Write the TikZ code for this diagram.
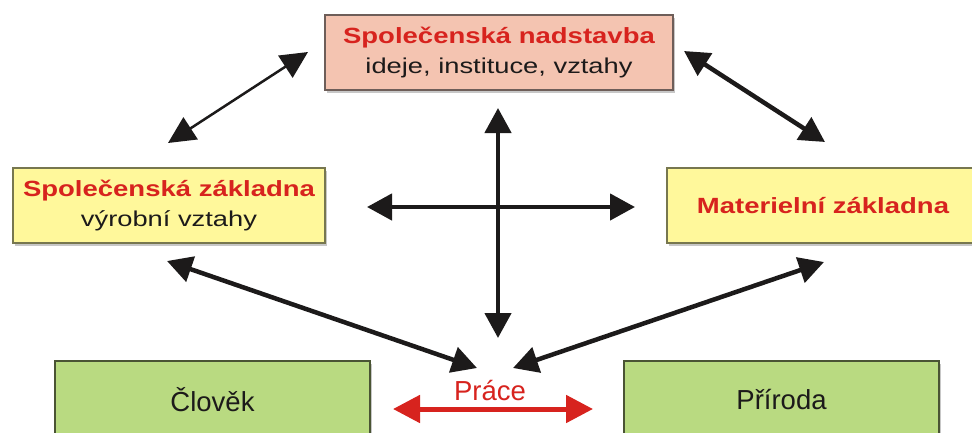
\documentclass[tikz,border=0pt]{standalone}
\usepackage{fontspec}
\usepackage{graphicx}
\setmainfont{Liberation Sans}
\usetikzlibrary{arrows.meta,shadows}
\definecolor{redtxt}{HTML}{D7231E}
\definecolor{inkblack}{HTML}{1C1A1A}
\definecolor{pinkfill}{HTML}{F4C4B1}
\definecolor{pinkedge}{HTML}{6E5E59}
\definecolor{yelfill}{HTML}{FFF89B}
\definecolor{yeledge}{HTML}{77774F}
\definecolor{grnfill}{HTML}{B9DA81}
\definecolor{grnedge}{HTML}{4A5434}
\newcommand\hdtext[1]{\scalebox{1.25}[1]{\fontsize{22}{30}\selectfont\bfseries\textcolor{redtxt}{#1}}}
\newcommand\subtext[1]{\scalebox{1.27}[1]{\fontsize{21.5}{30}\selectfont\textcolor{inkblack}{#1}}}
\tikzset{
  boxbase/.style={draw, line width=2pt, inner sep=0pt, align=center,
    font=\fontsize{21.5}{30}\selectfont,
    drop shadow={shadow xshift=2pt, shadow yshift=-3pt, fill=black!22, opacity=1}},
  topbox/.style={boxbase, fill=pinkfill, draw=pinkedge, minimum width=348pt, minimum height=75pt},
  yelbox/.style={boxbase, fill=yelfill, draw=yeledge, minimum width=312pt, minimum height=75pt},
  grnbox/.style={boxbase, fill=grnfill, draw=grnedge, minimum width=315pt, minimum height=78pt,
    font=\fontsize{27.5}{32}\selectfont, text=inkblack},
  blackhead/.tip={Triangle[length=25pt,width=26pt]},
  dblarrow/.style={draw=inkblack, line width=4.5pt, blackhead-blackhead},
  thinarrow/.style={draw=inkblack, line width=2.5pt, {Triangle[length=27pt,width=26pt]}-{Triangle[length=27pt,width=26pt]}},
  redarrow/.style={draw=redtxt, line width=5pt, {Triangle[length=27pt,width=27pt]}-{Triangle[length=27pt,width=27pt]}},
}
\begin{document}
\begin{tikzpicture}[x=1pt,y=-1pt]
\useasboundingbox (0,0) rectangle (972,432);
\clip (0,0) rectangle (972,432);
\fill[white] (0,0) rectangle (972,432);

\node[topbox] (nadstavba) at (499,52.5) {\hdtext{Společenská nadstavba}\\\subtext{ideje, instituce, vztahy}};
\node[yelbox] (spolzakl) at (169,205.5) {\hdtext{Společenská základna}\\\subtext{výrobní vztahy}};
\node[yelbox] (matzakl) at (823,205.5) {\hdtext{Materielní základna}};
\node[grnbox] (clovek) at (212.5,400) {Člověk};
\node[grnbox] (priroda) at (781.5,400) {Příroda};
\node[anchor=base, text=redtxt, font=\fontsize{27.5}{32}\selectfont, inner sep=0pt] (prace) at (490,400.7) {Práce};

\coordinate (a1) at (308,52);
\coordinate (a2) at (168,143);
\coordinate (b1) at (684,51);
\coordinate (b2) at (825,142);
\coordinate (vt) at (498,108);
\coordinate (vb) at (498,338);
\coordinate (hl) at (367,207);
\coordinate (hr) at (635,207);
\coordinate (c1) at (167,261);
\coordinate (c2) at (477,368);
\coordinate (d1) at (824,262);
\coordinate (d2) at (513,368);
\coordinate (r1) at (393,409);
\coordinate (r2) at (593,409);

\draw[thinarrow] (a1) -- (a2);
\draw[dblarrow] (b1) -- (b2);
\draw[dblarrow] (vt) -- (vb);
\draw[dblarrow] (hl) -- (hr);
\draw[dblarrow] (c1) -- (c2);
\draw[dblarrow] (d1) -- (d2);
\draw[redarrow] (r1) -- (r2);
\end{tikzpicture}
\end{document}
